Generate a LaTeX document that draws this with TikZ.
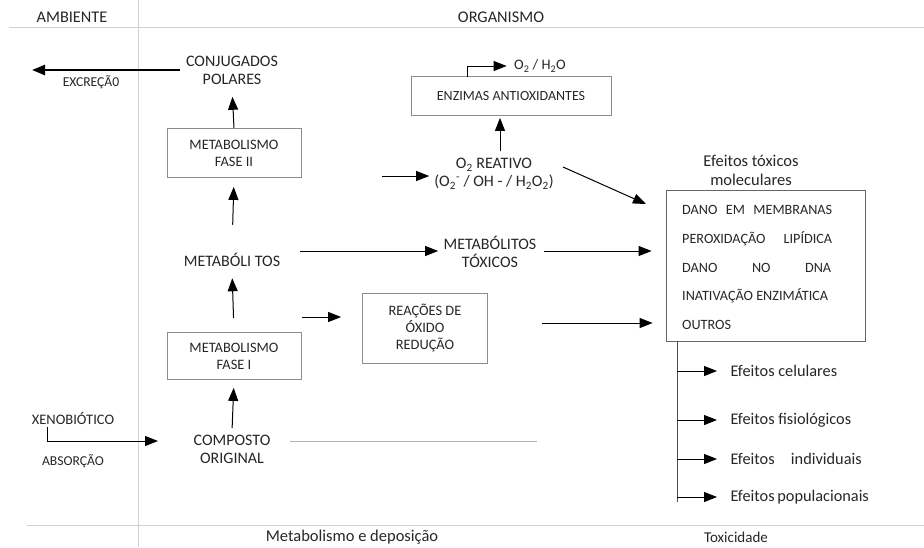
\documentclass[tikz,border=0pt]{standalone}
\usepackage{fontspec}
\setmainfont{Carlito}
\usetikzlibrary{arrows.meta}
\begin{document}
\begin{tikzpicture}[x=1pt,y=-1pt]
  \tikzset{
    txt/.style={text=black!85, font=\fontsize{16}{18}\selectfont, align=center},
    smalltxt/.style={text=black!85, font=\fontsize{13.6}{16}\selectfont, align=center},
    itemtxt/.style={text=black!85, font=\fontsize{14.2}{16}\selectfont, anchor=west, inner sep=0pt},
    efftxt/.style={text=black!85, font=\fontsize{16.3}{18}\selectfont, anchor=west},
    stagebox/.style={
      draw=black!45,
      line width=0.8pt,
      text=black!85,
      font=\fontsize{14.4}{17}\selectfont,
      align=center
    },
    arr/.style={-{Triangle[length=13pt,width=10pt]}, line width=1pt},
    sepline/.style={draw=black!18, line width=0.8pt}
  }
  \useasboundingbox (0,0) rectangle (924,547);

  % divisoes
  \draw[sepline] (9,27) -- (924,27);
  \draw[sepline] (27,525) -- (924,525);
  \draw[sepline] (138,0) -- (138,547);

  \node[txt, font=\fontsize{16.3}{18}\selectfont] (ambiente) at (72,17) {AMBIENTE};
  \node[txt, font=\fontsize{16.3}{18}\selectfont] (organismo) at (501,17) {ORGANISMO};
  \node[txt, font=\fontsize{16.5}{18}\selectfont] (metdep) at (352,537) {Metabolismo e deposição};
  \node[txt, font=\fontsize{15}{18}\selectfont] (toxic) at (736,537) {Toxicidade};

  % coluna do metabolismo
  \node[txt] (conj) at (232,70) {CONJUGADOS\\POLARES};
  \node[stagebox, minimum width=134pt, minimum height=49pt] (fase2) at (234,153) {METABOLISMO\\FASE II};
  \node[txt] (metab) at (232,260) {METABÓLI TOS};
  \node[stagebox, minimum width=134pt, minimum height=47pt] (fase1) at (234,356) {METABOLISMO\\FASE I};
  \node[txt] (comp) at (232,449) {COMPOSTO\\ORIGINAL};

  \draw[arr, shorten >=9pt] (fase2.north) -- (conj.south);
  \draw[arr, shorten <=25pt, shorten >=9pt] (metab.north) -- (fase2.south);
  \draw[arr, shorten <=14pt, shorten >=8pt] (fase1.north) -- (metab.south);
  \draw[arr, shorten <=3pt, shorten >=8pt] (comp.north) -- (fase1.south);

  % entrada e saida
  \node[txt, font=\fontsize{14.5}{16}\selectfont] (xeno) at (73,418) {XENOBIÓTICO};
  \node[smalltxt] (absor) at (73,461) {ABSORÇÃO};
  \node[smalltxt] (excr) at (91,82) {EXCREÇÃ0};
  \coordinate (xenostart) at (47,427);
  \coordinate (xenoend) at (158,441);
  \draw[arr] (xenostart) |- (xenoend);
  \coordinate (excrend) at (32,70);
  \draw[-{Triangle[length=13pt,width=10pt]}, line width=2.4pt, shorten <=3pt] (conj.west |- excrend) -- (excrend);
  \coordinate (compline) at (537,441);
  \draw[draw=black!30, line width=0.8pt, shorten <=16pt] (comp.east |- compline) -- (compline);

  % oxido reducao
  \node[stagebox, minimum width=125pt, minimum height=70pt] (reac) at (425,328) {REAÇÕES DE\\ÓXIDO\\REDUÇÃO};
  \coordinate (reacin) at (302,317);
  \draw[arr, shorten >=21pt] (reacin) -- (reacin -| reac.west);
  \coordinate (reacout) at (542,323);

  % metabolitos toxicos
  \node[txt] (mtox) at (490,252) {METABÓLITOS\\TÓXICOS};
  \coordinate (mtoxin) at (300,251);
  \draw[arr, shorten >=2pt] (mtoxin) -- (mtox.west |- mtoxin);

  % oxigenio reativo
  \node[txt, inner sep=1pt] (o2r) at (494,174) {O\textsubscript{2} REATIVO\\(O\textsubscript{2}\textsuperscript{-} / OH - / H\textsubscript{2}O\textsubscript{2})};
  \coordinate (o2rin) at (382,176);
  \draw[arr, shorten >=4pt] (o2rin) -- (o2rin -| o2r.west);
  \node[stagebox, font=\fontsize{14}{15}\selectfont, minimum width=200pt, minimum height=39pt] (enz) at (511,96) {ENZIMAS ANTIOXIDANTES};
  \draw[arr, shorten <=6pt, shorten >=2pt] (o2r.north -| 500,0) -- (enz.south -| 500,0);
  \node[txt, font=\fontsize{14.5}{16}\selectfont] (oh) at (540,66) {O\textsubscript{2} / H\textsubscript{2}O};
  \coordinate (enzout) at (467,77);
  \draw[arr, shorten >=4pt] (enzout) |- (oh.west);

  % efeitos moleculares
  \node[txt, font=\fontsize{16.5}{19}\selectfont] (efmol) at (751,170) {Efeitos tóxicos\\moleculares};
  \node[draw=black!60, line width=0.8pt, minimum width=199pt, minimum height=151pt] (molbox) at (765.5,265.5) {};
  \node[itemtxt] (it1) at (682,210) {\makebox[150pt][s]{DANO\hfill EM\hfill MEMBRANAS}};
  \node[itemtxt] (it2) at (682,239) {\makebox[150pt][s]{PEROXIDAÇÃO\hfill LIPÍDICA}};
  \node[itemtxt] (it3) at (682,268) {\makebox[149pt][s]{DANO\hfill NO\hfill DNA}};
  \node[itemtxt] (it4) at (682,296) {INATIVAÇÃO ENZIMÁTICA};
  \node[itemtxt] (it5) at (682,325) {OUTROS};

  \coordinate (mtoxout) at (544,251);
  \draw[arr, shorten >=14pt] (mtoxout) -- (mtoxout -| molbox.west);
  \draw[arr, shorten >=13pt] (reacout) -- (reacout -| molbox.west);
  \coordinate (o2rout) at (563,167);
  \coordinate (o2rend) at (646,204);
  \draw[arr] (o2rout) -- (o2rend);

  % efeitos em niveis superiores
  \coordinate (ltop) at (677,341);
  \coordinate (lbot) at (677,502);
  \draw[line width=0.8pt, draw=black!70] (ltop) -- (lbot);
  \node[efftxt] (cel) at (727,371) {Efeitos celulares};
  \node[efftxt] (fis) at (727,420) {Efeitos fisiológicos};
  \node[efftxt] (ind) at (727,459) {Efeitos\hspace{1em}individuais};
  \node[efftxt] (pop) at (727,497) {Efeitos\,populacionais};
  \draw[arr, shorten >=10pt] (ltop |- cel.west) -- (cel.west);
  \draw[arr, shorten >=10pt] (ltop |- fis.west) -- (fis.west);
  \draw[arr, shorten >=10pt] (ltop |- ind.west) -- (ind.west);
  \draw[arr, shorten >=10pt] (ltop |- pop.west) -- (pop.west);
\end{tikzpicture}
\end{document}
